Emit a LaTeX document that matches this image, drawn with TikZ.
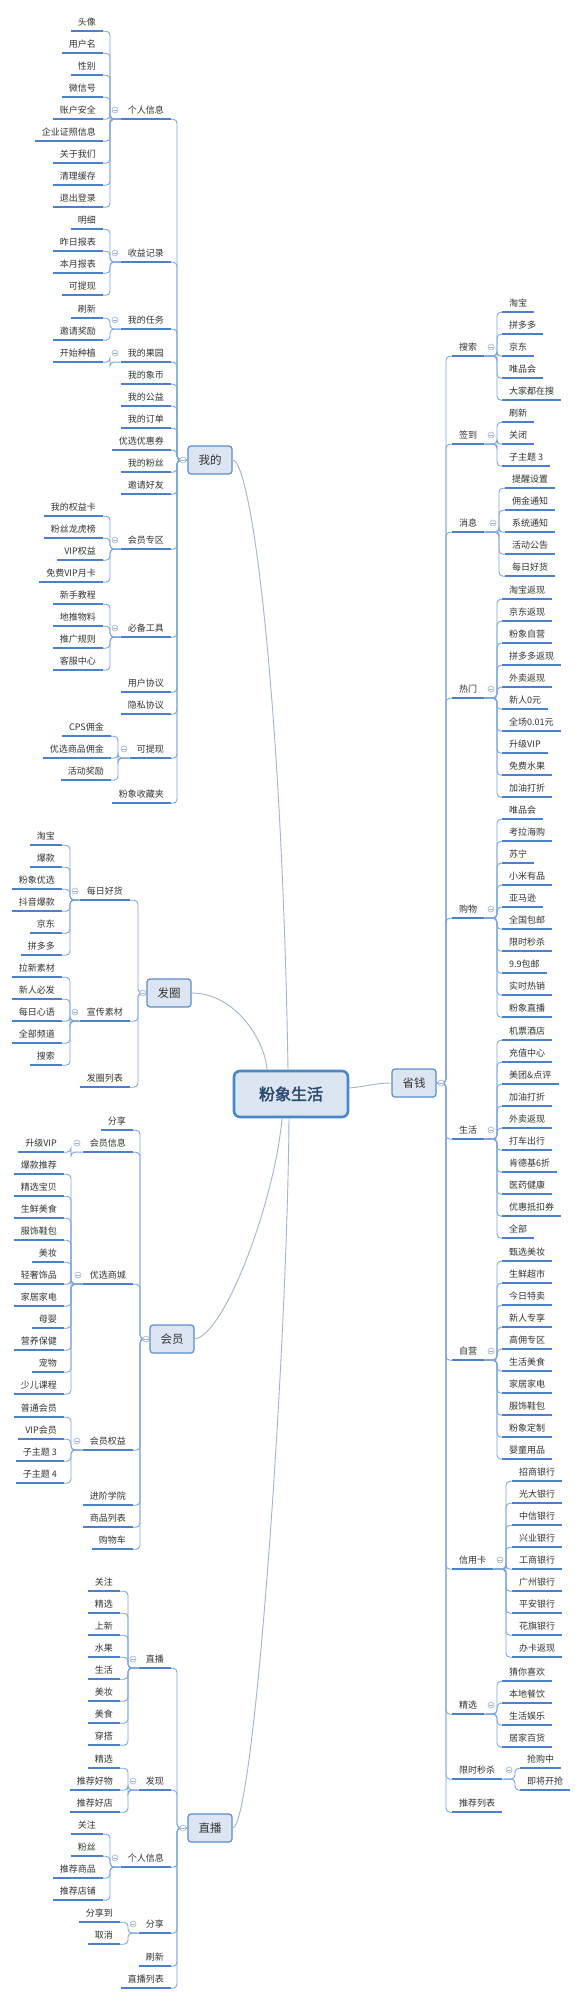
\documentclass[tikz,border=0pt]{standalone}
\usepackage{fontspec}
\setmainfont{Noto Sans CJK SC}
\newfontfamily\rootfont[FakeBold=2.5]{Noto Sans CJK SC}
\definecolor{ulc}{HTML}{4A80CC}
\definecolor{cnc}{HTML}{7FA5DA}
\definecolor{mainc}{HTML}{A3B5CC}
\definecolor{boxfill}{HTML}{DCE6F2}
\definecolor{boxdraw}{HTML}{5B8CCB}
\definecolor{rootdraw}{HTML}{4A86C8}
\definecolor{roottext}{HTML}{2B4A73}
\definecolor{txt}{HTML}{333333}
\definecolor{mkc}{HTML}{9DB3CF}
\tikzset{
  base/.style={font=\fontsize{9}{10}\selectfont, text=txt, inner xsep=7pt, inner ysep=0pt, minimum height=18pt},
  tl/.style={base, anchor=east},
  tr/.style={base, anchor=west},
  ul/.style={draw=ulc, line width=1.8pt},
  conn/.style={draw=cnc, line width=0.9pt, rounded corners=4pt},
  mainline/.style={draw=mainc, line width=0.9pt},
  mkst/.style={circle, draw=mkc, fill=white, line width=0.6pt, minimum size=6pt, inner sep=0pt,
    path picture={\draw[mkc, line width=0.6pt] ([xshift=1.3pt]path picture bounding box.west) -- ([xshift=-1.3pt]path picture bounding box.east);}},
  mainbox/.style={draw=boxdraw, fill=boxfill, line width=1.2pt, rounded corners=3pt, minimum width=44pt, minimum height=28pt, inner sep=0pt, font=\fontsize{11.5}{12}\selectfont, text=txt},
  rootbox/.style={draw=rootdraw, fill=boxfill, line width=2.6pt, rounded corners=6pt, minimum width=114pt, minimum height=46pt, inner sep=0pt, font=\rootfont\fontsize{16}{18}\selectfont, text=roottext},
}
% left topic: name, east x, y, text
\newcommand\kidL[4]{\node[tl] (#1) at (#2,#3) {#4}; \draw[ul] (#1.south west) -- (#1.south east);}
\newcommand\kidR[4]{\node[tr] (#1) at (#2,#3) {#4}; \draw[ul] (#1.south west) -- (#1.south east);}
% leaves: parent, fan coordinate, prefix, x, first y, texts
\newcommand\leafsL[6]{%
  \foreach \t [count=\i from 0] in {#6} {%
    \pgfmathsetmacro\yy{#5+22*\i}
    \node[tl] (#3\i) at (#4,\yy) {\t};
    \draw[ul] (#3\i.south west) -- (#3\i.south east);
    \draw[conn] (#1.south west) -- (#2) |- (#3\i.south east);
  }}
\newcommand\leafsR[6]{%
  \foreach \t [count=\i from 0] in {#6} {%
    \pgfmathsetmacro\yy{#5+22*\i}
    \node[tr] (#3\i) at (#4,\yy) {\t};
    \draw[ul] (#3\i.south west) -- (#3\i.south east);
    \draw[conn] (#1.south east) -- (#2) |- (#3\i.south west);
  }}
\newcommand\mk[3]{\node[mkst] (#1) at (#2,#3) {};}
\begin{document}
\begin{tikzpicture}[x=1pt,y=-1pt]
\fill[white] (0,0) rectangle (584,2000);
\useasboundingbox (0,0) rectangle (584,2000);

% main boxes
\node[rootbox] (root) at (291,1094) {粉象生活};
\node[mainbox] (wd) at (210,460) {我的};
\node[mainbox] (fq) at (169,993) {发圈};
\node[mainbox] (hy) at (172,1339) {会员};
\node[mainbox] (zb) at (210,1828) {直播};
\node[mainbox] (sq) at (414,1083) {省钱};

\draw[mainline] (wd.east) .. controls (252,461) and (282,700) .. ([xshift=-3pt]root.north);
\draw[mainline] (fq.east) .. controls (235,993) and (265,1040) .. ([xshift=-24pt]root.north);
\draw[mainline] (hy.east) .. controls (225,1335) and (275,1200) .. ([xshift=-9pt]root.south);
\draw[mainline] (zb.east) .. controls (254,1827) and (287,1360) .. ([xshift=-2pt]root.south);
\draw[mainline] ([yshift=6pt]root.east) .. controls (370,1086) and (375,1083) .. (sq.west);

% ===== 我的 =====
\coordinate (tW) at (177,460);
\kidL{w1}{171}{110}{个人信息}
\kidL{w2}{171}{253}{收益记录}
\kidL{w3}{171}{320}{我的任务}
\kidL{w4}{171}{353}{我的果园}
\kidL{w5}{171}{375}{我的象币}
\kidL{w6}{171}{397}{我的公益}
\kidL{w7}{171}{419}{我的订单}
\kidL{w8}{171}{441}{优选优惠券}
\kidL{w9}{171}{463}{我的粉丝}
\kidL{w10}{171}{485}{邀请好友}
\kidL{w11}{171}{540}{会员专区}
\kidL{w12}{171}{628}{必备工具}
\kidL{w13}{171}{683}{用户协议}
\kidL{w14}{171}{705}{隐私协议}
\kidL{w15}{171}{749}{可提现}
\kidL{w16}{171}{794}{粉象收藏夹}
\foreach \c in {w1,w2,w3,w4,w5,w6,w7,w8,w9,w10,w11,w12,w13,w14,w15,w16}
  \draw[conn] (wd.west) -- (tW) |- (\c.south east);

\coordinate (fa) at (110,119);
\leafsL{w1}{fa}{a}{103}{22}{头像,用户名,性别,微信号,账户安全,企业证照信息,关于我们,清理缓存,退出登录}
\coordinate (fb) at (110,262);
\leafsL{w2}{fb}{b}{103}{220}{明细,昨日报表,本月报表,可提现}
\coordinate (fc) at (110,329);
\leafsL{w3}{fc}{c}{103}{309}{刷新,邀请奖励}
\coordinate (fd) at (110,362);
\leafsL{w4}{fd}{d}{103}{353}{开始种植}
\coordinate (fe) at (110,549);
\leafsL{w11}{fe}{e}{103}{507}{我的权益卡,粉丝龙虎榜,VIP权益,免费VIP月卡}
\coordinate (fg) at (110,637);
\leafsL{w12}{fg}{g}{103}{595}{新手教程,地推物料,推广规则,客服中心}
\coordinate (fk) at (118,758);
\leafsL{w15}{fk}{k}{111}{727}{CPS佣金,优选商品佣金,活动奖励}

% ===== 发圈 =====
\coordinate (tF) at (138,993);
\kidL{f1}{130}{891}{每日好货}
\kidL{f2}{130}{1012}{宣传素材}
\kidL{f3}{130}{1078}{发圈列表}
\foreach \c in {f1,f2,f3}
  \draw[conn] (fq.west) -- (tF) |- (\c.south east);
\coordinate (ff1) at (70,900);
\leafsL{f1}{ff1}{fa}{62}{836}{淘宝,爆款,粉象优选,抖音爆款,京东,拼多多}
\coordinate (ff2) at (70,1021);
\leafsL{f2}{ff2}{fb}{62}{968}{拉新素材,新人必发,每日心语,全部频道,搜索}

% ===== 会员 =====
\coordinate (tH) at (140,1339);
\kidL{h1}{133}{1121}{分享}
\kidL{h2}{133}{1143}{会员信息}
\kidL{h3}{133}{1275}{优选商城}
\kidL{h4}{133}{1441}{会员权益}
\kidL{h5}{133}{1496}{进阶学院}
\kidL{h6}{133}{1518}{商品列表}
\kidL{h7}{133}{1540}{购物车}
\foreach \c in {h1,h2,h3,h4,h5,h6,h7}
  \draw[conn] (hy.west) -- (tH) |- (\c.south east);
\coordinate (fh2) at (71,1152);
\leafsL{h2}{fh2}{ha}{64}{1143}{升级VIP}
\coordinate (fh3) at (71,1284);
\leafsL{h3}{fh3}{hb}{64}{1165}{爆款推荐,精选宝贝,生鲜美食,服饰鞋包,美妆,轻奢饰品,家居家电,母婴,营养保健,宠物,少儿课程}
\coordinate (fh4) at (71,1450);
\leafsL{h4}{fh4}{hc}{64}{1408}{普通会员,VIP会员,子主题 3,子主题 4}

% ===== 直播 =====
\coordinate (tZ) at (177,1828);
\kidL{z1}{171}{1659}{直播}
\kidL{z2}{171}{1781}{发现}
\kidL{z3}{171}{1858}{个人信息}
\kidL{z4}{171}{1924}{分享}
\kidL{z5}{171}{1957}{刷新}
\kidL{z6}{171}{1979}{直播列表}
\foreach \c in {z1,z2,z3,z4,z5,z6}
  \draw[conn] (zb.west) -- (tZ) |- (\c.south east);
\coordinate (fz1) at (128,1668);
\leafsL{z1}{fz1}{za}{120}{1582}{关注,精选,上新,水果,生活,美妆,美食,穿搭}
\coordinate (fz2) at (128,1790);
\leafsL{z2}{fz2}{zb}{120}{1759}{精选,推荐好物,推荐好店}
\coordinate (fz3) at (110,1867);
\leafsL{z3}{fz3}{zc}{103}{1825}{关注,粉丝,推荐商品,推荐店铺}
\coordinate (fz4) at (128,1933);
\leafsL{z4}{fz4}{zd}{120}{1913}{分享到,取消}

% ===== 省钱 =====
\coordinate (tS) at (446,1083);
\kidR{s1}{452}{347}{搜索}
\kidR{s2}{452}{435}{签到}
\kidR{s3}{452}{523}{消息}
\kidR{s4}{452}{689}{热门}
\kidR{s5}{452}{909}{购物}
\kidR{s6}{452}{1130}{生活}
\kidR{s7}{452}{1351}{自营}
\kidR{s8}{452}{1560}{信用卡}
\kidR{s9}{452}{1705}{精选}
\kidR{s10}{452}{1770}{限时秒杀}
\kidR{s11}{452}{1803}{推荐列表}
\foreach \c in {s1,s2,s3,s4,s5,s6,s7,s8,s9,s10,s11}
  \draw[conn] (sq.east) -- (tS) |- (\c.south west);
\coordinate (fs1) at (497,356);
\leafsR{s1}{fs1}{sa}{502}{303}{淘宝,拼多多,京东,唯品会,大家都在搜}
\coordinate (fs2) at (497,444);
\leafsR{s2}{fs2}{sb}{502}{413}{刷新,关闭,子主题 3}
\coordinate (fs3) at (499,532);
\leafsR{s3}{fs3}{sc}{505}{479}{提醒设置,佣金通知,系统通知,活动公告,每日好货}
\coordinate (fs4) at (497,698);
\leafsR{s4}{fs4}{sd}{502}{590}{淘宝返现,京东返现,粉象自营,拼多多返现,外卖返现,新人0元,全场0.01元,升级VIP,免费水果,加油打折}
\coordinate (fs5) at (497,918);
\leafsR{s5}{fs5}{se}{502}{810}{唯品会,考拉海购,苏宁,小米有品,亚马逊,全国包邮,限时秒杀,9.9包邮,实时热销,粉象直播}
\coordinate (fs6) at (497,1139);
\leafsR{s6}{fs6}{sf}{502}{1031}{机票酒店,充值中心,美团\&点评,加油打折,外卖返现,打车出行,肯德基6折,医药健康,优惠抵扣券,全部}
\coordinate (fs7) at (497,1360);
\leafsR{s7}{fs7}{sg}{502}{1252}{甄选美妆,生鲜超市,今日特卖,新人专享,高佣专区,生活美食,家居家电,服饰鞋包,粉象定制,婴童用品}
\coordinate (fs8) at (506,1569);
\leafsR{s8}{fs8}{sh}{512}{1472}{招商银行,光大银行,中信银行,兴业银行,工商银行,广州银行,平安银行,花旗银行,办卡返现}
\coordinate (fs9) at (497,1714);
\leafsR{s9}{fs9}{si}{502}{1672}{猜你喜欢,本地餐饮,生活娱乐,居家百货}
\coordinate (fs10) at (515,1779);
\leafsR{s10}{fs10}{sj}{520}{1759}{抢购中,即将开抢}

% ===== markers =====
\mk{mwd}{183}{460}
\mk{mfq}{143}{993}
\mk{mhy}{146}{1339}
\mk{mzb}{183}{1828}
\mk{msq}{441}{1083}
\mk{mw1}{115}{110}
\mk{mw2}{115}{253}
\mk{mw3}{115}{320}
\mk{mw4}{115}{353}
\mk{mw11}{115}{540}
\mk{mw12}{115}{628}
\mk{mw15}{124}{749}
\mk{mf1}{75}{891}
\mk{mf2}{75}{1012}
\mk{mh2}{77}{1143}
\mk{mh3}{78}{1275}
\mk{mh4}{77}{1441}
\mk{mz1}{133}{1659}
\mk{mz2}{133}{1781}
\mk{mz3}{115}{1858}
\mk{mz4}{133}{1924}
\mk{ms1}{491}{347}
\mk{ms2}{491}{435}
\mk{ms3}{493}{523}
\mk{ms4}{491}{689}
\mk{ms5}{491}{909}
\mk{ms6}{491}{1130}
\mk{ms7}{491}{1351}
\mk{ms8}{500}{1560}
\mk{ms9}{491}{1705}
\mk{ms10}{509}{1770}
\end{tikzpicture}
\end{document}
